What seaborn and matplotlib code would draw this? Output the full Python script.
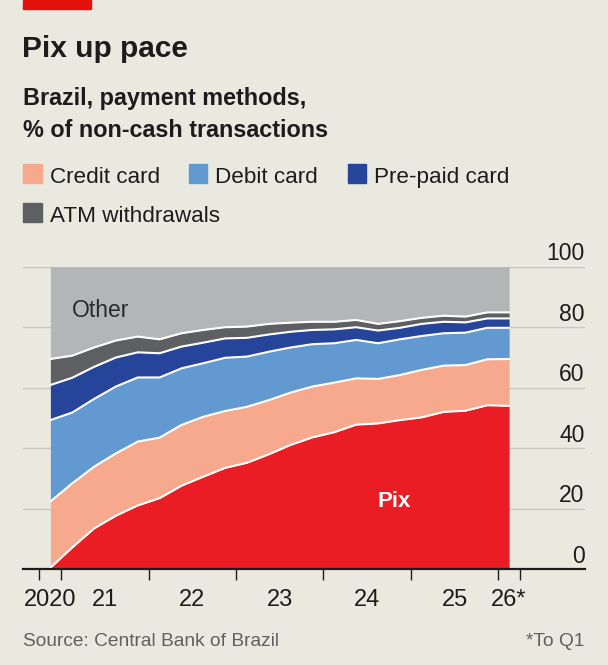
import numpy as np
import pandas as pd
import seaborn as sns
import matplotlib.pyplot as plt
from matplotlib.patches import Rectangle
from matplotlib.transforms import blended_transform_factory, offset_copy

# data, % of non-cash transactions, quarterly
quarters = ["2020Q4",
            "2021Q1", "2021Q2", "2021Q3", "2021Q4",
            "2022Q1", "2022Q2", "2022Q3", "2022Q4",
            "2023Q1", "2023Q2", "2023Q3", "2023Q4",
            "2024Q1", "2024Q2", "2024Q3", "2024Q4",
            "2025Q1", "2025Q2", "2025Q3", "2025Q4",
            "2026Q1"]
pix = [0.5, 7.2, 13.5, 17.7, 21.1, 23.5, 27.6, 30.6, 33.5, 35.2, 38.0,
       41.1, 43.6, 45.3, 47.8, 48.2, 49.3, 50.2, 52.0, 52.4, 54.2, 54.0]
credit = [21.9, 21.2, 20.4, 20.6, 21.1, 20.0, 20.1, 19.8, 18.8, 18.5, 17.9,
          17.3, 16.8, 16.4, 15.3, 14.7, 14.9, 15.7, 15.3, 15.1, 15.2, 15.5]
debit = [26.9, 23.4, 22.4, 22.1, 21.2, 19.9, 18.7, 17.7, 17.6, 16.6, 16.0,
         14.9, 14.0, 13.0, 12.7, 11.8, 11.8, 11.2, 10.7, 10.7, 10.4, 10.3]
prepaid = [11.6, 11.5, 10.6, 9.6, 8.3, 8.0, 7.2, 6.8, 6.4, 6.2, 5.7,
           5.2, 4.7, 4.6, 4.2, 4.2, 3.8, 4.0, 3.8, 3.4, 3.1, 3.1]
atm = [8.6, 7.3, 6.4, 5.6, 5.2, 4.6, 4.4, 4.2, 3.7, 3.7, 3.5,
       3.0, 2.7, 2.5, 2.4, 2.2, 2.2, 2.0, 2.0, 1.9, 2.0, 2.0]

layers = ["Pix", "Credit card", "Debit card", "Pre-paid card", "ATM withdrawals", "Other"]
colors = ["#ea1c24", "#f7a98d", "#6399d1", "#27449b", "#5e5f63", "#b4b5b7"]

year_ticks = [2020.75, 2021, 2022, 2023, 2024, 2025, 2026, 2026.25]
year_label_pos = [2020.875, 2021.5, 2022.5, 2023.5, 2024.5, 2025.5, 2026.125]
year_labels = ["2020", "21", "22", "23", "24", "25", "26*"]
y_ticks = [0, 20, 40, 60, 80, 100]

bg = "#eae9e0"
ink = "#1c1c1c"

# x = middle of each quarter
x = [int(q[:4]) + (int(q[-1]) - 1) / 4 + 0.125 for q in quarters]
df = pd.DataFrame({"x": x, "Pix": pix, "Credit card": credit, "Debit card": debit,
                   "Pre-paid card": prepaid, "ATM withdrawals": atm})
df["Other"] = 100 - df[layers[:-1]].sum(axis=1)

# boundaries between layers (white lines)
tops = df[layers[:-1]].cumsum(axis=1)
tops["x"] = df["x"]
bounds = tops.melt(id_vars="x", var_name="layer", value_name="top")

sns.set_style("white", {"axes.facecolor": bg, "figure.facecolor": bg})
regular = ["Liberation Sans", "DejaVu Sans"]
plt.rcParams["font.family"] = regular

W, H = 608, 665
def fx(px):
    return px / W
def fy(py):
    return 1 - py / H

fig = plt.figure(figsize=(6.08, 6.65), dpi=100)
ax = fig.add_axes([fx(23.3), fy(569.3), fx(584.7) - fx(23.3), fy(266.7) - fy(569.3)])
ax.set_facecolor(bg)

ax.stackplot(df["x"], *[df[c] for c in layers], colors=colors, linewidth=0, zorder=2)
sns.lineplot(data=bounds, x="x", y="top", hue="layer", palette=["white"] * 5,
             legend=False, linewidth=1.5, ax=ax, zorder=3)

ax.set_xlim(2020.565, 2026.99)
ax.set_ylim(0, 100)
ax.set_xlabel("")
ax.set_ylabel("")

# grid + y labels on the right, sitting above the lines
ax.set_yticks(y_ticks)
ax.tick_params(axis="y", length=0, labelleft=False)
ax.grid(axis="y", color="#c9c8c0", linewidth=1)
ax.set_axisbelow(True)
tr = offset_copy(blended_transform_factory(ax.transAxes, ax.transData), fig=fig, y=4.8, units="points")
for v in y_ticks:
    ax.text(1.0, v, str(v), transform=tr, ha="right", va="baseline",
            fontsize=16.5, color=ink)

# x axis: ticks at year boundaries, labels in between
ax.set_xticks(year_ticks)
ax.set_xticklabels([""] * len(year_ticks))
ax.set_xticks(year_label_pos, minor=True)
ax.set_xticklabels(year_labels, minor=True, fontsize=17, color=ink)
ax.tick_params(axis="x", which="major", bottom=True, length=8, width=1, color=ink, direction="out")
ax.tick_params(axis="x", which="minor", bottom=True, length=0, pad=14.5)

for s in ["left", "right", "top"]:
    ax.spines[s].set_visible(False)
ax.spines["bottom"].set_color(ink)
ax.spines["bottom"].set_linewidth(1.6)
ax.spines["bottom"].set_zorder(5)

ax.text(2021.12, 83.4, "Other", fontsize=16.5, color="#2a2a2a", va="baseline")
ax.text(2024.81, 20.6, "Pix", fontsize=16, color="white", fontweight="bold",
        ha="center", va="baseline")

# header
fig.patches.append(Rectangle((fx(23.3), fy(9.3)), fx(91.1) - fx(23.3), 9.3 / H,
                             transform=fig.transFigure, color="#e3120b"))
fig.text(fx(22.5), fy(56.7), "Pix up pace", fontsize=21.5, fontweight="bold", color=ink,
         va="baseline")
fig.text(fx(23), fy(105), "Brazil, payment methods,", fontsize=16.8, fontweight="bold",
         color=ink, va="baseline")
fig.text(fx(23), fy(137.3), "% of non-cash transactions", fontsize=16.8, fontweight="bold",
         color=ink, va="baseline")

# legend
legend_items = [("Credit card", 23.3, 183.3), ("Debit card", 188.8, 183.3),
                ("Pre-paid card", 348.2, 183.3), ("ATM withdrawals", 23.3, 221.7)]
for name, lx, ly in legend_items:
    c = colors[layers.index(name)]
    fig.patches.append(Rectangle((fx(lx), fy(ly)), 18.2 / W, 19 / H,
                                 transform=fig.transFigure, color=c))
    fig.text(fx(lx + 26.3), fy(ly), name, fontsize=16.2, color=ink, va="baseline")

# footer
fig.text(fx(23.3), fy(646), "Source: Central Bank of Brazil", fontsize=13.8, color="#606060",
         va="baseline")
fig.text(fx(584.7), fy(646), "*To Q1", fontsize=13.8, color="#606060", ha="right",
         va="baseline")

fig.savefig("out.png", dpi=100, facecolor=bg)
